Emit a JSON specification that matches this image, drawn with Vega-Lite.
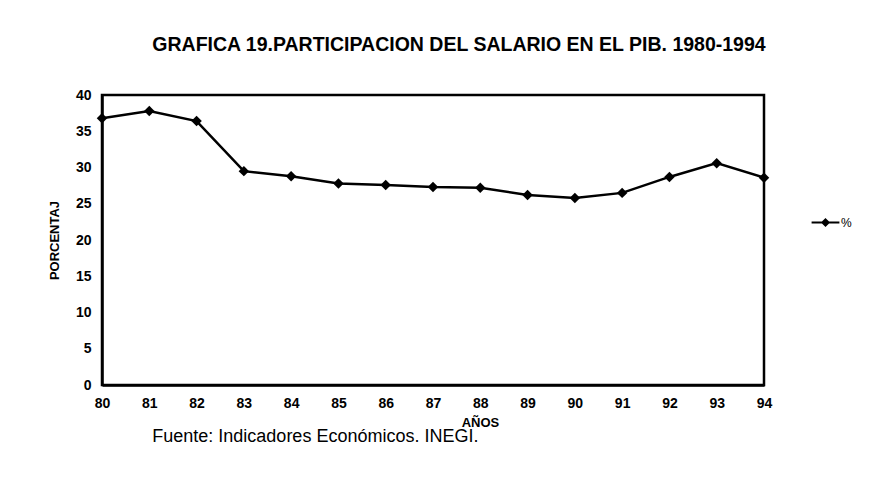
{
  "$schema": "https://vega.github.io/schema/vega-lite/v6.json",
  "autosize": "none",
  "width": 662,
  "height": 290,
  "padding": {"left": 102, "top": 95, "right": 119, "bottom": 97},
  "background": "white",
  "config": {
    "font": "Liberation Sans",
    "view": {"stroke": "black", "strokeWidth": 2.5},
    "axis": {"labelOverlap": false}
  },
  "title": {
    "text": "GRAFICA 19.PARTICIPACION DEL SALARIO EN EL PIB. 1980-1994",
    "fontSize": 19.5,
    "fontWeight": "bold",
    "color": "black",
    "anchor": "middle",
    "dx": 26,
    "offset": 33
  },
  "data": {
    "values": [
      {"anio": "80", "pct": 36.8, "serie": "%"},
      {"anio": "81", "pct": 37.8, "serie": "%"},
      {"anio": "82", "pct": 36.4, "serie": "%"},
      {"anio": "83", "pct": 29.5, "serie": "%"},
      {"anio": "84", "pct": 28.8, "serie": "%"},
      {"anio": "85", "pct": 27.8, "serie": "%"},
      {"anio": "86", "pct": 27.6, "serie": "%"},
      {"anio": "87", "pct": 27.3, "serie": "%"},
      {"anio": "88", "pct": 27.2, "serie": "%"},
      {"anio": "89", "pct": 26.2, "serie": "%"},
      {"anio": "90", "pct": 25.8, "serie": "%"},
      {"anio": "91", "pct": 26.5, "serie": "%"},
      {"anio": "92", "pct": 28.7, "serie": "%"},
      {"anio": "93", "pct": 30.6, "serie": "%"},
      {"anio": "94", "pct": 28.6, "serie": "%"}
    ]
  },
  "encoding": {
    "x": {
      "field": "anio", "type": "ordinal",
      "scale": {"type": "point", "padding": 0},
      "axis": {
        "title": "AÑOS", "titleFontSize": 13, "titleFontWeight": "bold", "titleColor": "black",
        "titleX": 378, "titleY": 31,
        "labelAngle": 0, "labelFontSize": 14, "labelFontWeight": "bold", "labelColor": "black",
        "labelPadding": 11, "tickSize": 0, "domainColor": "black", "domainWidth": 2.5, "grid": false
      }
    },
    "y": {
      "field": "pct", "type": "quantitative",
      "scale": {"domain": [0, 40], "nice": false},
      "axis": {
        "title": "PORCENTAJ", "titleFontSize": 13, "titleFontWeight": "bold", "titleColor": "black",
        "titlePadding": 14,
        "values": [0, 5, 10, 15, 20, 25, 30, 35, 40],
        "labelFontSize": 14, "labelFontWeight": "bold", "labelColor": "black",
        "labelPadding": 11, "tickSize": 0, "domainColor": "black", "domainWidth": 2.5, "grid": false
      }
    }
  },
  "layer": [
    {
      "mark": {"type": "line", "color": "black", "strokeWidth": 2.5},
      "encoding": {
        "color": {
          "field": "serie", "type": "nominal",
          "scale": {"range": ["black"]},
          "legend": {
            "title": null, "orient": "none", "legendX": 716, "legendY": 120,
            "symbolType": "M -2.2 0 L -0.5 0 M 0.5 0 L 2.2 0 M 0 -0.5 L 0.5 0 L 0 0.5 L -0.5 0 Z",
            "symbolSize": 160, "symbolStrokeWidth": 2, "symbolFillColor": "black", "symbolStrokeColor": "black",
            "labelFontSize": 12, "labelColor": "black", "labelOffset": 8
          }
        }
      }
    },
    {
      "mark": {"type": "point", "shape": "diamond", "filled": true, "color": "black", "size": 110, "opacity": 1}
    },
    {
      "data": {"values": [{"anio": "81", "pct": -7.2, "nota": "Fuente: Indicadores Económicos. INEGI."}]},
      "mark": {"type": "text", "fontSize": 18, "color": "black", "align": "left", "baseline": "middle", "dx": 3, "clip": false},
      "encoding": {
        "text": {"field": "nota"}
      }
    }
  ]
}
